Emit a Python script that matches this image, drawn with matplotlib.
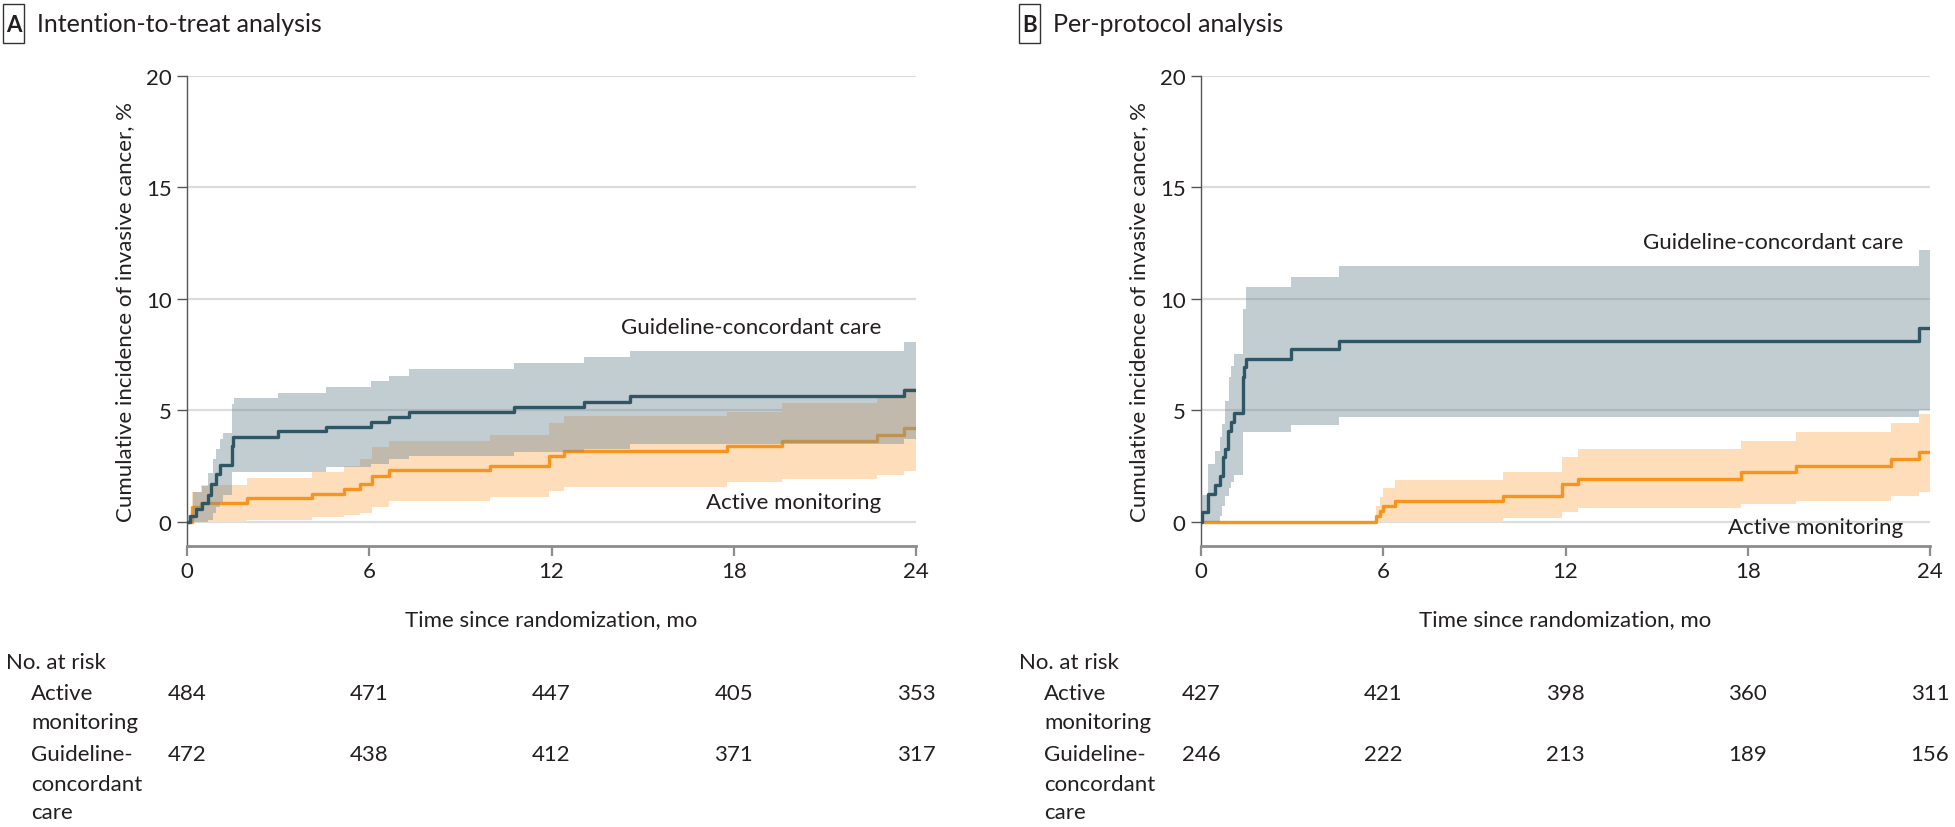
import numpy as np
import matplotlib.pyplot as plt
from matplotlib.patches import Rectangle

plt.rcParams['font.family'] = ['Lato', 'DejaVu Sans']

# ---------------------------------------------------------------
# Panel A: intention-to-treat (months, cumulative incidence %)
itt_gc_t = [0, 0.1, 0.3, 0.5, 0.7, 0.8, 0.95, 1.1, 1.47, 1.52, 3.0, 4.58, 6.05, 6.66, 7.3, 10.78, 13.07, 14.58, 23.6, 24]
itt_gc_y = [0, 0.25, 0.58, 0.85, 1.2, 1.7, 2.15, 2.55, 3.4, 3.83, 4.07, 4.27, 4.5, 4.72, 4.95, 5.14, 5.36, 5.63, 5.93, 5.93]
itt_gc_band_t = [0, 0.2, 0.5, 0.7, 0.85, 0.95, 1.1, 1.2, 1.47, 1.55, 3.0, 4.58, 6.05, 6.66, 7.3, 10.78, 13.07, 14.58, 23.6, 24]
itt_gc_hi = [0.3, 1.33, 1.6, 2.2, 2.8, 3.25, 3.7, 4.0, 5.3, 5.55, 5.8, 6.07, 6.33, 6.55, 6.86, 7.13, 7.41, 7.68, 8.06, 8.06]
itt_gc_lo = [0, 0, 0, 0.1, 0.4, 0.65, 0.9, 1.2, 2.23, 2.23, 2.23, 2.45, 2.6, 2.8, 2.97, 3.12, 3.27, 3.5, 3.72, 3.72]

itt_am_t = [0, 0.15, 0.45, 1.96, 4.1, 5.16, 5.7, 6.1, 6.64, 9.96, 11.93, 12.42, 17.78, 19.6, 22.7, 23.6, 24]
itt_am_y = [0, 0.66, 0.85, 1.06, 1.26, 1.48, 1.7, 2.08, 2.33, 2.53, 2.97, 3.17, 3.42, 3.65, 3.92, 4.2, 4.2]
itt_am_hi = [0, 1.33, 1.66, 1.96, 2.23, 2.5, 2.8, 3.35, 3.65, 3.9, 4.44, 4.73, 4.95, 5.34, 5.66, 6.0, 6.0]
itt_am_lo = [0, 0, 0, 0.07, 0.2, 0.3, 0.4, 0.66, 0.96, 1.1, 1.4, 1.58, 1.78, 1.93, 2.11, 2.3, 2.3]

# Panel B: per-protocol
pp_gc_t = [0, 0.02, 0.24, 0.46, 0.64, 0.71, 0.79, 0.9, 1.0, 1.08, 1.37, 1.43, 1.48, 2.96, 4.54, 23.63, 24]
pp_gc_y = [0, 0.43, 1.26, 1.66, 2.07, 2.9, 3.27, 4.1, 4.5, 4.87, 6.49, 6.94, 7.31, 7.76, 8.13, 8.68, 8.68]
pp_gc_band_t = [0, 0.24, 0.46, 0.62, 0.7, 0.79, 0.93, 1.0, 1.09, 1.38, 1.48, 2.96, 4.54, 23.63, 24]
pp_gc_hi = [1.2, 2.6, 3.2, 3.8, 4.4, 5.44, 6.49, 7.0, 7.53, 9.55, 10.52, 11.0, 11.5, 12.2, 12.2]
pp_gc_lo = [0, 0, 0, 0.27, 0.7, 1.15, 1.5, 1.78, 2.1, 4.02, 4.02, 4.35, 4.69, 5.04, 5.04]

pp_am_t = [0, 5.76, 5.9, 6.0, 6.4, 9.94, 11.9, 12.41, 17.79, 19.6, 22.72, 23.63, 24]
pp_am_y = [0, 0.25, 0.51, 0.73, 0.96, 1.18, 1.7, 1.93, 2.23, 2.53, 2.83, 3.12, 3.12]
pp_am_hi = [0, 0.73, 1.13, 1.5, 1.88, 2.23, 2.93, 3.27, 3.62, 4.02, 4.42, 4.84, 4.84]
pp_am_lo = [0, 0, 0, 0, 0, 0.16, 0.43, 0.61, 0.8, 0.96, 1.15, 1.36, 1.36]

# numbers at risk at 0, 6, 12, 18, 24 mo
risk_times = [0, 6, 12, 18, 24]
itt_risk_am = [484, 471, 447, 405, 353]
itt_risk_gc = [472, 438, 412, 371, 317]
pp_risk_am = [427, 421, 398, 360, 311]
pp_risk_gc = [246, 222, 213, 189, 156]

W, H = 1955, 828
DARK = '#2F5664'
GREY_BAND = '#78909B'
ORANGE = '#F7941D'
ORANGE_BAND = '#FDDDBA'
TXT = '#231F20'
FS = 16


def fx(px):
    return px / W


def fy(py):
    return 1 - py / H


def panel(left_px, gc, am, label_gc_xy, label_am_xy):
    ax = fig.add_axes([fx(left_px), fy(547), fx(729), 470 / H])
    gc_t, gc_y, gc_bt, gc_lo, gc_hi = gc
    am_t, am_y, am_lo, am_hi = am
    for v in [0, 5, 10, 15, 20]:
        ax.axhline(v, color='#DCDCDC', lw=1.6, zorder=0)
    ax.fill_between(am_t, am_lo, am_hi, step='post', color=ORANGE_BAND, lw=0, zorder=1)
    ax.step(am_t, am_y, where='post', color=ORANGE, lw=2.4, zorder=2)
    ax.fill_between(gc_bt, gc_lo, gc_hi, step='post', color=GREY_BAND, alpha=0.45, lw=0, zorder=3)
    ax.step(gc_t, gc_y, where='post', color=DARK, lw=2.4, zorder=4)

    ax.set_xlim(0, 24)
    ax.set_ylim(-1.08, 20)
    ax.set_xticks([0, 6, 12, 18, 24])
    ax.set_yticks([0, 5, 10, 15, 20])
    for s in ['top', 'right']:
        ax.spines[s].set_visible(False)
    ax.spines['left'].set_color('#555555')
    ax.spines['left'].set_linewidth(1.0)
    ax.spines['bottom'].set_color('#8C8C8C')
    ax.spines['bottom'].set_linewidth(2.0)
    ax.tick_params(axis='y', length=7, width=1.0, color='#555555', labelsize=FS, labelcolor=TXT, pad=4)
    ax.tick_params(axis='x', length=7, width=1.6, color='#8C8C8C', labelsize=FS, labelcolor=TXT, pad=4)
    ax.set_ylabel('Cumulative incidence of invasive cancer, %', fontsize=FS, color=TXT, labelpad=8)
    pos = ax.get_position()
    fig.text((pos.x0 + pos.x1) / 2, fy(620), 'Time since randomization, mo', ha='center', va='center',
             fontsize=FS, color=TXT)

    ax.text(label_gc_xy[0], label_gc_xy[1], 'Guideline-concordant care', ha='right', va='center',
            fontsize=FS, color=TXT, zorder=6)
    ax.text(label_am_xy[0], label_am_xy[1], 'Active monitoring', ha='right', va='center',
            fontsize=FS, color=TXT, zorder=6)
    return ax


def titulo(x_box, letter, text):
    fig.patches.append(Rectangle((fx(x_box), fy(44)), fx(21), 39 / H, transform=fig.transFigure,
                                 fill=False, edgecolor='#333333', lw=1.0))
    fig.text(fx(x_box + 10.5), fy(25), letter, ha='center', va='center', fontsize=FS,
             fontweight='bold', color=TXT)
    fig.text(fx(x_box + 34), fy(25), text, ha='left', va='center', fontsize=18, color=TXT)


def tabla_riesgo(ax, x_left, am, gc):
    fig.text(fx(x_left), fy(663), 'No. at risk', ha='left', va='center', fontsize=FS, color=TXT)
    renglones = [('Active', 694), ('monitoring', 723), ('Guideline-', 755), ('concordant', 785), ('care', 813)]
    for txt, py in renglones:
        fig.text(fx(x_left + 25), fy(py), txt, ha='left', va='center', fontsize=FS, color=TXT)
    pos = ax.get_position()
    for t, a, g in zip(risk_times, am, gc):
        xf = pos.x0 + (t - 0) / 24 * (pos.x1 - pos.x0)
        fig.text(xf, fy(694), str(a), ha='center', va='center', fontsize=FS, color=TXT)
        fig.text(xf, fy(755), str(g), ha='center', va='center', fontsize=FS, color=TXT)


fig = plt.figure(figsize=(W / 100, H / 100), dpi=100)

axA = panel(187, (itt_gc_t, itt_gc_y, itt_gc_band_t, itt_gc_lo, itt_gc_hi),
            (itt_am_t, itt_am_y, itt_am_lo, itt_am_hi), (22.85, 8.74), (22.85, 0.9))
axB = panel(1201, (pp_gc_t, pp_gc_y, pp_gc_band_t, pp_gc_lo, pp_gc_hi),
            (pp_am_t, pp_am_y, pp_am_lo, pp_am_hi), (23.13, 12.57), (23.13, -0.24))

titulo(3, 'A', 'Intention-to-treat analysis')
titulo(1019, 'B', 'Per-protocol analysis')

tabla_riesgo(axA, 6, itt_risk_am, itt_risk_gc)
tabla_riesgo(axB, 1019, pp_risk_am, pp_risk_gc)

fig.savefig('out.png', dpi=100)
